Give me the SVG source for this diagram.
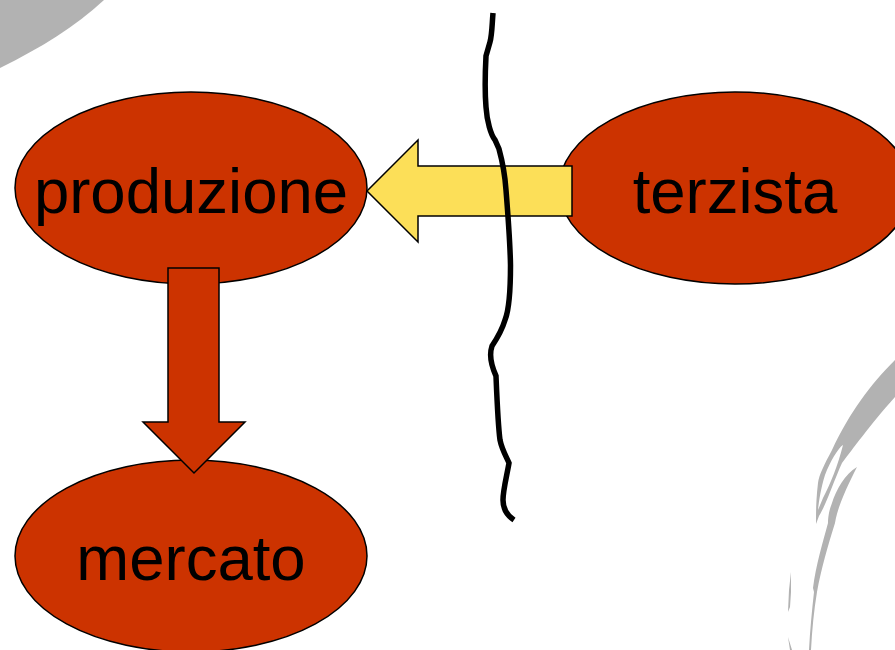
<svg xmlns="http://www.w3.org/2000/svg" width="895" height="650" viewBox="0 0 895 650">
<style>
.bg{fill:#b2b2b2;stroke:none}
.node{fill:#cc3300;stroke:#000;stroke-width:1.5}
.lbl{font-family:"Liberation Sans",Arial,sans-serif;font-size:63.5px;fill:#000;text-anchor:middle}
.arrow{stroke:#000;stroke-width:1.5;stroke-linejoin:miter}
</style>
<defs><filter id="soft" x="-5%" y="-5%" width="110%" height="110%"><feGaussianBlur stdDeviation="0.7"/></filter></defs>
<rect width="895" height="650" fill="#fff"/>
<g id="background">
<path class="bg" d="M0 0H104C75 27 42 47 0 68Z"/>
<g filter="url(#soft)">
<path class="bg" fill-rule="evenodd" d="M895 360C870 385 850 412 832 450C824 465 819 475 818 483C816 500 816 512 816 524L819 516C826 505 835 478 842 463C852 450 870 425 895 397ZM843 445C838 448 830 462 825 475C821 488 819 500 818 510L823 498C830 485 838 465 843 445Z"/>
<path class="bg" d="M857 467C845 474 836 490 832 503C829 510 828 518 828 523C822 545 816 565 813 588L814 592C812 610 810 630 809 650H811C812 630 814 610 817 592C821 570 828 545 835 523C838 505 848 485 857 467Z"/>
<path class="bg" d="M791 572L789 590L788 612L790 607L791 592ZM788 637L790 650H792Z"/>
</g>
</g>
<g id="node-produzione">
<ellipse class="node" cx="191" cy="188" rx="176" ry="96"/>
<text class="lbl" x="191" y="213">produzione</text>
</g>
<g id="node-terzista">
<ellipse class="node" cx="735" cy="188" rx="176" ry="96"/>
<text class="lbl" x="735" y="213">terzista</text>
</g>
<g id="node-mercato">
<ellipse class="node" cx="191" cy="556" rx="176" ry="96"/>
<text class="lbl" x="191" y="580">mercato</text>
</g>
<g id="connectors">
<path id="arrow-yellow" class="arrow" fill="#fcdf58" d="M572 166H418V140L367 191L418 242V216H572Z"/>
<path id="arrow-red" class="arrow" fill="#cc3300" d="M168 268H219V422H245L194 473L143 422H168Z"/>
</g>
<g id="divider">
<path fill="none" stroke="#000" stroke-width="5.5" d="M493 13C492 25 492 35 490 42L486 56C485 75 485 95 486 107C487 122 491 135 495 140L499 149C502 160 505 175 506 190C508 215 510 240 510.500 265C510.500 290 509 310 505 320C502 330 496 340 492 346C489 355 491 365 496 376C497 400 498 425 500 440C502 450 507 458 509 463C507 475 503 490 503 500C503 510 508 516 514 520"/>
</g>
</svg>
